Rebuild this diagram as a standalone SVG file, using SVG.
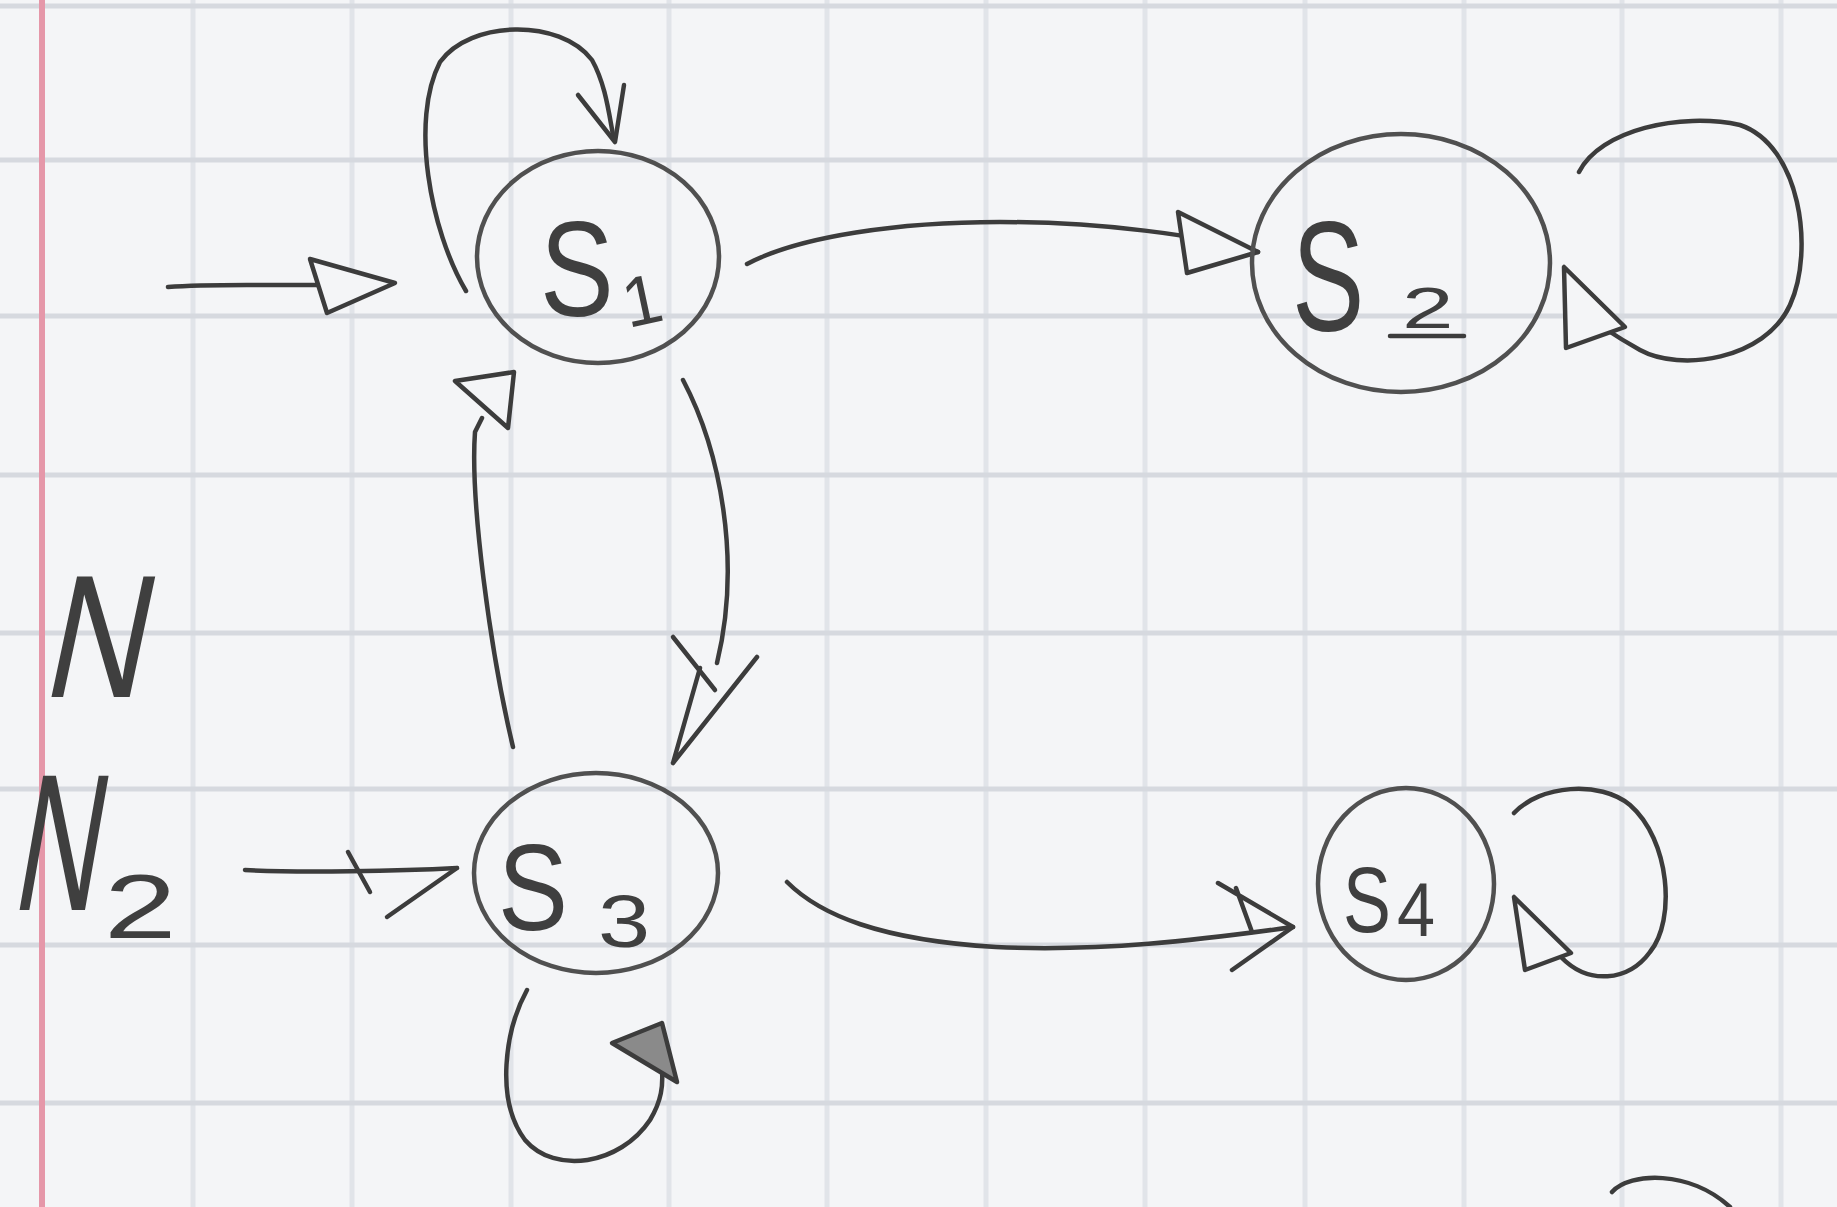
<svg xmlns="http://www.w3.org/2000/svg" width="1837" height="1207" viewBox="0 0 1837 1207">
<style>
.paper{fill:#f4f5f7}
.gv{stroke:#e1e4e9;stroke-width:5;fill:none}
.gh{stroke:#d6d9df;stroke-width:5;fill:none}
.margin{stroke:#e597a9;stroke-width:6;fill:none}
.node{fill:none;stroke:#505050;stroke-width:4.5}
.ink{fill:none;stroke:#3c3c3c;stroke-width:4.5;stroke-linecap:round;stroke-linejoin:round}
.head{fill:#f4f5f7;stroke:#3c3c3c;stroke-width:4.5;stroke-linejoin:round}
.lbl{font-family:"Liberation Sans",Arial,sans-serif;fill:#3f3f3f}
</style>
<rect class="paper" x="0" y="0" width="1837" height="1207"/>
<g id="grid">
<path class="gv" d="M193,0V1207M352,0V1207M511,0V1207M669,0V1207M827,0V1207M986,0V1207M1145,0V1207M1305,0V1207M1464,0V1207M1622,0V1207M1781,0V1207"/>
<path class="gh" d="M0,6H1837M0,160H1837M0,316H1837M0,475H1837M0,633H1837M0,789H1837M0,945H1837M0,1103H1837"/>
<path class="margin" d="M42,0V1207"/>
</g>
<g id="connectors">
<g id="e-init-s1">
<path class="ink" d="M168,287 C230,282 300,288 393,283"/>
<path class="head" d="M310,259 L395,283 L327,313 Z"/>
</g>
<g id="e-s1-s1">
<path class="ink" d="M466,291 C430,230 410,120 440,62 C470,20 560,18 592,60 C606,85 609,115 614,140"/>
<path class="ink" d="M578,95 L615,142 L624,85"/>
</g>
<g id="e-s1-s2">
<path class="ink" d="M747,264 C800,236 900,222 1000,222 C1100,222 1200,235 1258,252"/>
<path class="head" d="M1178,212 L1258,252 L1187,273 Z"/>
</g>
<g id="e-s2-s2">
<path class="ink" d="M1579,172 C1600,130 1680,112 1740,125 C1800,145 1815,250 1790,305 C1765,360 1680,372 1640,350 C1622,340 1610,332 1604,328"/>
<path class="head" d="M1564,267 L1566,348 L1625,327 Z"/>
</g>
<g id="e-s1-s3">
<path class="ink" d="M683,380 C720,450 742,560 717,663"/>
<path class="ink" d="M673,637 L715,690"/>
<path class="ink" d="M757,657 L673,763 M700,668 L673,763"/>
</g>
<g id="e-s3-s1">
<path class="ink" d="M513,747 C490,650 470,500 475,432 L482,418"/>
<path class="head" d="M455,381 L514,372 L508,428 Z"/>
</g>
<g id="e-n2-s3">
<path class="ink" d="M245,870 C300,873 400,871 457,868"/>
<path class="ink" d="M348,852 L370,892 M387,917 L457,868"/>
</g>
<g id="e-s3-s3">
<path class="ink" d="M527,990 C505,1030 495,1100 525,1140 C555,1175 620,1165 650,1120 C662,1100 663,1085 662,1070"/>
<path class="head" style="fill:#8a8a8a" d="M662,1023 L612,1043 L677,1082 Z"/>
</g>
<g id="e-s3-s4">
<path class="ink" d="M787,882 C820,915 880,940 996,947 C1100,952 1200,940 1293,927"/>
<path class="ink" d="M1218,883 L1293,927 L1232,970 M1236,888 L1252,932"/>
</g>
<g id="e-s4-s4">
<path class="ink" d="M1514,813 C1540,785 1600,780 1630,805 C1670,840 1676,920 1650,952 C1628,982 1588,985 1561,957"/>
<path class="head" d="M1514,897 L1525,970 L1571,953 Z"/>
</g>
<path class="ink" d="M1612,1192 C1630,1172 1690,1170 1730,1207"/>
</g>
<g id="S1">
<ellipse class="node" cx="598" cy="257" rx="121" ry="106"/>
<text class="lbl" font-size="135" transform="translate(540,316) scale(0.82,1)">S</text>
<text class="lbl" font-size="70" transform="translate(628,328) rotate(-12)">1</text>
</g>
<g id="S2">
<ellipse class="node" cx="1401" cy="263" rx="149" ry="129"/>
<text class="lbl" font-size="155" transform="translate(1292,330) scale(0.7,1)">S</text>
<text class="lbl" font-size="58" transform="translate(1402,328) scale(1.6,1)">2</text>
<path class="ink" d="M1390,336 H1464"/>
</g>
<g id="S3">
<ellipse class="node" cx="596" cy="873" rx="122" ry="100"/>
<text class="lbl" font-size="122" transform="translate(498,930) scale(0.86,1)">S</text>
<text class="lbl" font-size="75" transform="translate(598,947) scale(1.25,1)">3</text>
</g>
<g id="S4">
<ellipse class="node" cx="1406" cy="884" rx="88" ry="96"/>
<text class="lbl" font-size="92" transform="translate(1343,932) scale(0.78,1)">S</text>
<text class="lbl" font-size="76" transform="translate(1397,936) scale(0.9,1)">4</text>
</g>
<g id="N">
<text class="lbl" font-size="175" transform="translate(40,697) skewX(-12) scale(0.8,1)">N</text>
</g>
<g id="N2">
<text class="lbl" font-size="195" transform="translate(10,910) skewX(-10) scale(0.6,1)">N</text>
<text class="lbl" font-size="90" transform="translate(104,938) scale(1.45,1)">2</text>
</g>
</svg>
